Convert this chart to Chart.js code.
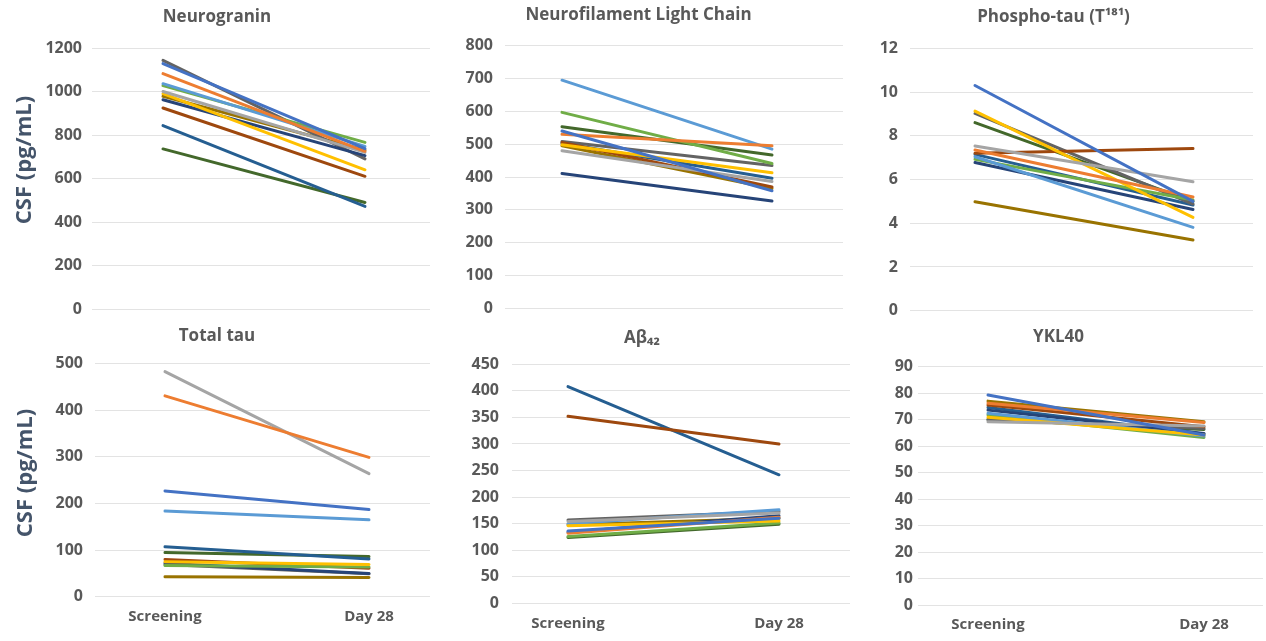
<!DOCTYPE html>
<html>
<head>
<meta charset="utf-8">
<script src="https://cdn.jsdelivr.net/npm/chart.js@4.4.1/dist/chart.umd.min.js"></script>
<style>
  body { margin: 0; background: #fff; width: 1266px; height: 641px; overflow: hidden; position: relative; font-family: "Open Sans", sans-serif; }
  .panel { position: absolute; }
  .ytitle { position: absolute; width: 160px; height: 28px; line-height: 28px; text-align: center;
            font-weight: bold; font-size: 22px; color: #44546a; transform: rotate(-90deg); white-space: nowrap; }
</style>
</head>
<body>
<div class="panel" style="left:0;top:0;width:430px;height:320px"><canvas id="c1"></canvas></div>
<div class="panel" style="left:430px;top:0;width:420px;height:320px"><canvas id="c2"></canvas></div>
<div class="panel" style="left:850px;top:0;width:416px;height:320px"><canvas id="c3"></canvas></div>
<div class="panel" style="left:0;top:320px;width:430px;height:321px"><canvas id="c4"></canvas></div>
<div class="panel" style="left:430px;top:320px;width:420px;height:321px"><canvas id="c5"></canvas></div>
<div class="panel" style="left:850px;top:320px;width:416px;height:321px"><canvas id="c6"></canvas></div>
<div class="ytitle" style="left:-58px;top:146px">CSF (pg/mL)</div>
<div class="ytitle" style="left:-57px;top:459px">CSF (pg/mL)</div>

<script>
// categorias y valores (12 pacientes por panel)
const categories = ["Screening", "Day 28"];

const neurograninScreening = [1128, 1082, 1000, 990, 1036, 1027, 962, 924, 1143, 978, 843, 736];
const neurograninDay28 = [737, 725, 720, 640, 748, 766, 705, 610, 690, 730, 472, 490];

const nflScreening = [540, 530, 480, 498, 695, 597, 411, 505, 508, 495, 503, 553];
const nflDay28 = [358, 495, 386, 413, 485, 441, 327, 370, 435, 365, 396, 467];

const ptauScreening = [10.3, 7.35, 7.53, 9.13, 7.04, 6.92, 6.78, 7.2, 9.02, 4.98, 7.15, 8.6];
const ptauDay28 = [5.0, 5.2, 5.9, 4.27, 3.81, 5.06, 4.63, 7.42, 4.88, 3.23, 4.83, 5.0];

const ttauScreening = [227, 431, 483, 75, 184, 67, 72, 80, 69, 43, 107, 95];
const ttauDay28 = [187, 299, 264, 69, 165, 64, 50, 61, 49, 41, 81, 86];

const abetaScreening = [136, 132, 154, 146, 150, 126, 134, 352, 157, 148, 408, 124];
const abetaDay28 = [160, 162, 170, 155, 176, 151, 165, 300, 173, 160, 242, 149];

const yklScreening = [79.3, 76.2, 69.2, 70.9, 72.4, 71.8, 73.6, 75.5, 69.9, 77, 74.6, 70.1];
const yklDay28 = [64.2, 68.9, 67.6, 64.2, 63.8, 63.3, 64.8, 67.3, 66.7, 69.2, 64.6, 66.3];

const seriesColors = ["#4472C4", "#ED7D31", "#A5A5A5", "#FFC000", "#5B9BD5", "#70AD47",
                      "#264478", "#9E480E", "#636363", "#997300", "#255E91", "#43682B"];

Chart.defaults.font.family = '"Open Sans", sans-serif';

function makePanel(id, p) {
  const span = p.dayX - p.screenX;
  const padLeft = 4;
  const areaTop = p.areaTop - p.box.y;
  const areaBottom = p.areaBottom - p.box.y;
  const titleY = p.titleY - p.box.y;
  const below = p.box.h - areaBottom;

  const datasets = p.screening.map((v, i) => ({
    data: [{ x: 0, y: v }, { x: 1, y: p.day28[i] }],
    borderColor: seriesColors[i],
    borderWidth: 3,
    borderCapStyle: "round",
    pointRadius: 0,
    fill: false,
  }));

  new Chart(document.getElementById(id), {
    type: "line",
    data: { datasets },
    options: {
      responsive: true,
      maintainAspectRatio: false,
      animation: false,
      layout: { padding: { left: padLeft, right: p.box.x + p.box.w - p.areaRight, top: 0, bottom: 0 } },
      plugins: {
        legend: { display: false },
        tooltip: { enabled: false },
        title: {
          display: true,
          text: p.title,
          color: "#595959",
          font: { size: 17, weight: "bold" },
          padding: { top: titleY - 10.2, bottom: areaTop - titleY - 10.2 },
        },
      },
      scales: {
        x: {
          type: "linear",
          min: -(p.screenX - p.areaLeft) / span,
          max: 1 + (p.areaRight - p.dayX) / span,
          afterBuildTicks: (s) => { s.ticks = [{ value: 0 }, { value: 1 }]; },
          afterFit: (s) => { s.height = below; },
          grid: { display: false, drawTicks: false },
          border: { display: false },
          ticks: {
            display: p.showX,
            callback: (v) => categories[v],
            autoSkip: false,
            maxRotation: 0,
            padding: p.xPad || 0,
            color: "#595959",
            font: { size: 15, weight: "bold" },
          },
        },
        y: {
          min: 0,
          max: p.yMax,
          afterFit: (s) => { s.width = p.areaLeft - p.box.x - padLeft; },
          border: { display: false },
          grid: { color: "#e3e3e3", drawTicks: true, tickLength: p.areaLeft - p.labelRight, tickColor: "rgba(0,0,0,0)" },
          ticks: {
            stepSize: p.yStep,
            callback: (v) => String(v),
            padding: 0,
            color: "#595959",
            font: { size: 16, weight: "bold", lineHeight: 1 },
          },
        },
      },
    },
  });
}

makePanel("c1", {
  title: "Neurogranin", screening: neurograninScreening, day28: neurograninDay28, yMax: 1200, yStep: 200,
  box: { x: 0, y: 0, w: 430, h: 320 }, areaLeft: 92, areaRight: 430, areaTop: 48, areaBottom: 309,
  labelRight: 82, screenX: 163, dayX: 365, titleY: 17, showX: false,
});
makePanel("c2", {
  title: "Neurofilament Light Chain", screening: nflScreening, day28: nflDay28, yMax: 800, yStep: 100,
  box: { x: 430, y: 0, w: 420, h: 320 }, areaLeft: 505, areaRight: 843, areaTop: 45.7, areaBottom: 308.3,
  labelRight: 493, screenX: 562, dayX: 772, titleY: 15, showX: false,
});
makePanel("c3", {
  title: "Phospho-tau (T¹⁸¹)", screening: ptauScreening, day28: ptauDay28, yMax: 12, yStep: 2,
  box: { x: 850, y: 0, w: 416, h: 320 }, areaLeft: 910, areaRight: 1253, areaTop: 48.3, areaBottom: 310.7,
  labelRight: 898, screenX: 975, dayX: 1193, titleY: 16.7, showX: false,
});
makePanel("c4", {
  title: "Total tau", screening: ttauScreening, day28: ttauDay28, yMax: 500, yStep: 100,
  box: { x: 0, y: 320, w: 430, h: 321 }, areaLeft: 95, areaRight: 430, areaTop: 363.7, areaBottom: 596.7,
  labelRight: 83, screenX: 165, dayX: 369, titleY: 335.7, showX: true, xPad: 11,
});
makePanel("c5", {
  title: "Aβ₄₂", screening: abetaScreening, day28: abetaDay28, yMax: 450, yStep: 50,
  box: { x: 430, y: 320, w: 420, h: 321 }, areaLeft: 512, areaRight: 850, areaTop: 364.3, areaBottom: 603.3,
  labelRight: 499, screenX: 568, dayX: 779, titleY: 338.3, showX: true, xPad: 11,
});
makePanel("c6", {
  title: "YKL40", screening: yklScreening, day28: yklDay28, yMax: 90, yStep: 10,
  box: { x: 850, y: 320, w: 416, h: 321 }, areaLeft: 918, areaRight: 1263, areaTop: 366.7, areaBottom: 605,
  labelRight: 913, screenX: 988, dayX: 1204, titleY: 337.3, showX: true, xPad: 11,
});
</script>
</body>
</html>
